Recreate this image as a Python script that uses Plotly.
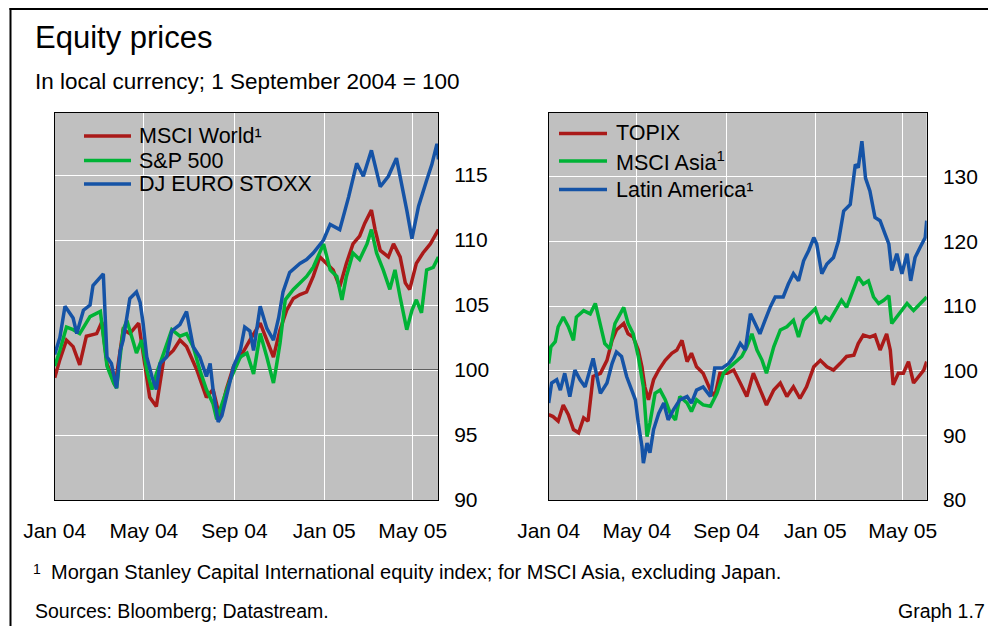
import pandas as pd
import plotly.graph_objects as go

# the page body adds an 8px margin, so the figure is drawn 8px smaller and all
# reference pixel positions are shifted by OFF
OFF = 8
W, H = 996 - OFF, 626 - OFF
BASE = pd.Timestamp("2004-01-01")

RED = "#AA1A19"
GREEN = "#00B336"
BLUE = "#1553A6"
FONT = "Liberation Sans, Arial, sans-serif"
LW = 3.5

# x values are days since 1 January 2004; y values are index levels (1 Sep 2004 = 100)

# left panel
world_days = [0, 7, 16, 25, 34, 43, 57, 64, 71, 82, 93, 102, 114, 120, 129, 138, 148, 161, 170, 179,
              193, 206, 215, 224, 233, 243, 252, 265, 279, 288, 297, 306, 315, 324, 333, 342, 351, 360,
              369, 378, 387, 396, 405, 414, 421, 430, 435, 442, 453, 460, 469, 476, 482, 491, 500, 510,
              516, 521]
world = [99.4, 100.8, 102.3, 101.8, 100.4, 102.6, 102.8, 103.7, 100.5, 98.8, 103.1, 102.8, 103.6, 101.3,
         97.9, 97.2, 100.8, 101.5, 102.3, 101.8, 100.0, 97.9, 98.5, 96.4, 98.5, 100.3, 101.0, 102.3,
         103.6, 102.3, 101.0, 103.1, 104.6, 105.5, 105.8, 106.0, 107.2, 108.7, 108.2, 107.7, 106.4,
         108.2, 109.7, 110.3, 111.3, 112.3, 110.8, 109.2, 108.7, 109.7, 108.7, 106.7, 106.2, 108.2,
         109.0, 109.7, 110.3, 110.8]

sp_days = [0, 7, 16, 25, 34, 48, 62, 71, 80, 84, 93, 98, 107, 111, 118, 125, 132, 138, 148, 159, 170,
           179, 188, 197, 206, 215, 220, 229, 238, 252, 261, 270, 279, 288, 297, 301, 306, 313, 324,
           333, 342, 351, 365, 374, 383, 390, 396, 405, 414, 424, 430, 437, 446, 455, 462, 469, 473,
           478, 485, 491, 498, 505, 514, 521]
sp500 = [100.3, 101.5, 103.3, 103.1, 102.8, 104.1, 104.5, 100.3, 99.0, 98.6, 103.1, 103.8, 102.1, 101.3,
         102.3, 100.0, 98.5, 99.7, 101.3, 103.1, 102.6, 102.8, 101.8, 100.0, 98.5, 97.4, 96.2, 97.7,
         99.2, 101.0, 101.3, 99.7, 102.8, 101.0, 99.0, 100.3, 102.1, 105.4, 106.2, 106.7, 107.2, 107.9,
         109.7, 107.7, 107.2, 105.4, 107.2, 109.0, 108.5, 109.7, 110.8, 109.0, 107.7, 106.2, 107.7,
         105.6, 104.6, 103.1, 104.6, 105.4, 104.4, 107.7, 107.9, 108.7]

stoxx_days = [0, 7, 14, 25, 30, 39, 48, 52, 66, 71, 77, 84, 89, 93, 102, 111, 116, 120, 125, 132, 138,
              143, 152, 159, 170, 179, 188, 197, 206, 211, 215, 222, 227, 233, 243, 252, 258, 265, 270,
              279, 288, 297, 304, 310, 319, 333, 342, 351, 365, 374, 387, 399, 410, 419, 430, 442, 453,
              464, 471, 478, 485, 494, 505, 512, 519, 521]
stoxx = [101.2, 102.5, 104.9, 104.0, 102.8, 104.6, 105.0, 106.5, 107.4, 101.0, 100.5, 98.6, 101.5, 102.3,
         105.5, 106.0, 105.2, 103.6, 101.0, 99.5, 98.5, 100.5, 101.0, 103.0, 103.5, 104.5, 101.8, 101.0,
         99.5, 100.5, 98.5, 96.0, 96.5, 98.0, 100.3, 101.5, 103.3, 103.0, 101.5, 104.9, 103.2, 102.3,
         104.0, 106.0, 107.5, 108.2, 108.5, 109.0, 110.0, 111.2, 110.8, 113.3, 115.9, 114.9, 116.9,
         114.1, 114.9, 116.3, 114.4, 112.3, 110.1, 112.6, 114.6, 115.8, 117.4, 116.2]

# right panel
topix_days = [0, 6, 13, 20, 27, 34, 41, 48, 54, 61, 71, 80, 87, 93, 103, 109, 116, 123, 128, 132, 137,
              144, 151, 160, 169, 176, 183, 190, 196, 203, 212, 222, 228, 235, 245, 254, 263, 272, 281,
              290, 299, 309, 318, 327, 336, 345, 354, 364, 373, 382, 391, 400, 409, 419, 425, 432, 441,
              448, 455, 464, 469, 473, 480, 487, 494, 501, 508, 515, 519]
topix = [93.2, 92.9, 92.2, 94.7, 93.2, 90.9, 90.4, 92.7, 92.2, 99.1, 99.6, 101.6, 104.7, 106.3, 107.3,
         105.7, 105.2, 103.2, 100.6, 97.5, 95.5, 98.6, 100.1, 101.6, 102.7, 103.2, 104.7, 101.4, 102.7,
         100.6, 99.6, 97.0, 96.0, 99.6, 99.6, 100.1, 98.1, 96.0, 99.6, 97.0, 94.7, 97.0, 98.1, 96.0,
         97.5, 95.7, 97.5, 100.6, 101.6, 100.6, 100.1, 101.1, 102.2, 102.4, 104.2, 105.5, 105.2, 105.5,
         103.2, 105.7, 103.2, 97.8, 99.6, 99.6, 101.4, 98.1, 99.1, 100.1, 101.4]

asia_days = [0, 3, 9, 13, 20, 27, 34, 38, 48, 57, 64, 71, 77, 84, 91, 103, 109, 116, 123, 130, 135, 139,
             146, 153, 160, 167, 174, 180, 190, 196, 203, 212, 222, 231, 240, 249, 258, 265, 272, 279,
             286, 293, 299, 309, 318, 327, 336, 343, 350, 359, 366, 373, 380, 386, 396, 402, 409, 419,
             425, 432, 439, 446, 453, 460, 467, 471, 478, 485, 492, 501, 510, 519]
asia = [101.1, 103.7, 104.5, 106.8, 108.3, 106.8, 104.7, 108.3, 109.3, 108.8, 110.4, 106.8, 104.2, 103.4,
        107.3, 109.8, 107.3, 105.7, 102.2, 97.5, 89.8, 91.9, 96.5, 97.0, 95.5, 93.4, 92.4, 96.0, 95.0,
        93.7, 95.5, 94.7, 94.5, 96.5, 99.6, 100.6, 101.6, 102.2, 103.7, 105.7, 103.2, 101.6, 99.6,
        103.7, 106.3, 106.8, 107.8, 105.2, 107.8, 108.8, 109.6, 107.3, 108.3, 107.8, 109.8, 110.9,
        109.8, 112.9, 114.5, 113.4, 113.9, 111.4, 110.4, 110.9, 111.6, 107.3, 108.3, 109.3, 110.4,
        109.3, 110.4, 111.4]

latam_days = [0, 4, 11, 16, 22, 29, 36, 43, 50, 57, 61, 71, 80, 87, 93, 100, 107, 114, 119, 123, 128,
              130, 135, 139, 144, 151, 158, 164, 171, 180, 190, 196, 203, 212, 222, 228, 238, 247, 254,
              263, 270, 277, 283, 290, 297, 304, 311, 322, 329, 336, 343, 350, 357, 364, 368, 375, 382,
              391, 398, 405, 414, 421, 425, 430, 435, 441, 448, 455, 462, 467, 471, 478, 485, 492, 497,
              503, 510, 517, 519]
latam = [95.0, 98.1, 98.6, 97.0, 99.6, 96.0, 100.1, 98.6, 97.5, 100.1, 101.9, 96.5, 98.1, 101.1, 102.9,
         102.2, 99.1, 97.0, 95.5, 91.9, 88.3, 85.7, 88.8, 87.3, 90.9, 93.4, 95.0, 92.4, 93.9, 95.5,
         96.0, 95.0, 97.0, 97.5, 96.0, 100.4, 100.4, 101.1, 102.2, 104.2, 103.2, 108.8, 107.3, 105.7,
         107.8, 109.8, 111.4, 111.4, 113.4, 115.0, 113.9, 117.0, 118.6, 120.6, 119.6, 115.0, 116.5,
         117.5, 120.1, 124.7, 125.7, 131.9, 131.4, 135.5, 129.8, 127.8, 123.7, 123.2, 121.1, 119.6,
         115.5, 118.1, 115.0, 118.1, 113.9, 117.5, 119.1, 120.6, 123.2]

left_names = ["MSCI World¹", "S&P 500", "DJ EURO STOXX"]
right_names = ["TOPIX", "MSCI Asia<sup>1</sup>", "Latin America¹"]


def to_dates(days):
    return BASE + pd.to_timedelta(days, unit="D")


def px(x):
    return (x - OFF) / W


def py(y):
    return 1 - (y - OFF) / H


fig = go.Figure()

left = [(world_days, world, RED), (sp_days, sp500, GREEN), (stoxx_days, stoxx, BLUE)]
right = [(topix_days, topix, RED), (asia_days, asia, GREEN), (latam_days, latam, BLUE)]

for (d, v, c), name in zip(left, left_names):
    fig.add_trace(go.Scatter(x=to_dates(d), y=v, mode="lines", name=name,
                             line=dict(color=c, width=LW), xaxis="x", yaxis="y"))
for (d, v, c), name in zip(right, right_names):
    fig.add_trace(go.Scatter(x=to_dates(d), y=v, mode="lines", name=name,
                             line=dict(color=c, width=LW), xaxis="x2", yaxis="y2"))

xcommon = dict(type="date", tick0="2004-01-01", dtick="M4", tickformat="%b %y",
               showgrid=True, gridcolor="white", gridwidth=1, showline=True, mirror=True,
               linecolor="black", linewidth=1, ticks="", tickfont=dict(size=21),
               ticklabelstandoff=12, automargin=False)
ycommon = dict(side="right", showgrid=True, gridcolor="white", gridwidth=1, zeroline=False,
               showline=True, mirror=True, linecolor="black", linewidth=1, ticks="",
               tickfont=dict(size=21), ticklabelstandoff=11, automargin=False)

end_left = str(BASE + pd.Timedelta(days=520.4))
end_right = str(BASE + pd.Timedelta(days=519))

fig.update_layout(
    width=W, height=H,
    margin=dict(l=0, r=0, t=0, b=0, autoexpand=False),
    paper_bgcolor="white", plot_bgcolor="#C0C0C0",
    font=dict(family=FONT, color="black", size=21),
    showlegend=False,
    xaxis=dict(domain=[px(54.7), px(438)], range=[str(BASE), end_left], anchor="y", **xcommon),
    yaxis=dict(domain=[py(500), py(113)], range=[90, 119.77], tick0=90, dtick=5, anchor="x", **ycommon),
    xaxis2=dict(domain=[px(548.7), px(926.7)], range=[str(BASE), end_right], anchor="y2", **xcommon),
    yaxis2=dict(domain=[py(500), py(113)], range=[80, 139.86], tick0=80, dtick=10, anchor="x2", **ycommon),
)

# reference line at 100
for xr, yr in (("x domain", "y"), ("x2 domain", "y2")):
    fig.add_shape(type="line", xref=xr, yref=yr, x0=0, x1=1, y0=100, y1=100,
                  line=dict(color="black", width=1), layer="below")

# hand-drawn legends
legend_rows = [
    (84, 131, 137, [136, 160.5, 184], left_names, [RED, GREEN, BLUE]),
    (559, 607, 614, [133.5, 161, 189.5], right_names, [RED, GREEN, BLUE]),
]
for x0, x1, xt, ys, names, cols in legend_rows:
    for y, name, col in zip(ys, names, cols):
        fig.add_shape(type="line", xref="paper", yref="paper", x0=px(x0), x1=px(x1),
                      y0=py(y), y1=py(y), line=dict(color=col, width=LW))
        fig.add_annotation(x=px(xt), y=py(y), xref="paper", yref="paper", text=name,
                           showarrow=False, xanchor="left", yanchor="middle",
                           font=dict(size=21.5))

# frame (left and top edges)
fig.add_shape(type="line", xref="paper", yref="paper", x0=px(10.5), x1=px(10.5), y0=0, y1=py(8),
              line=dict(color="black", width=2))
fig.add_shape(type="line", xref="paper", yref="paper", x0=px(9.5), x1=1, y0=py(9), y1=py(9),
              line=dict(color="black", width=2))

texts = [
    ("Equity prices", 33, 38, 31, "left"),
    ("In local currency; 1 September 2004 = 100", 33, 81.5, 22.5, "left"),
    ("<sup>1</sup>", 31, 569, 20, "left"),
    ("Morgan Stanley Capital International equity index; for MSCI Asia, excluding Japan.", 49, 572, 20, "left"),
    ("Sources: Bloomberg; Datastream.", 33, 611, 19.5, "left"),
    ("Graph 1.7", 987, 611, 19.5, "right"),
]
for t, x, y, s, anc in texts:
    fig.add_annotation(x=px(x), y=py(y), xref="paper", yref="paper", text=t, showarrow=False,
                       xanchor=anc, yanchor="middle", font=dict(size=s))

fig.write_html("out.html")
